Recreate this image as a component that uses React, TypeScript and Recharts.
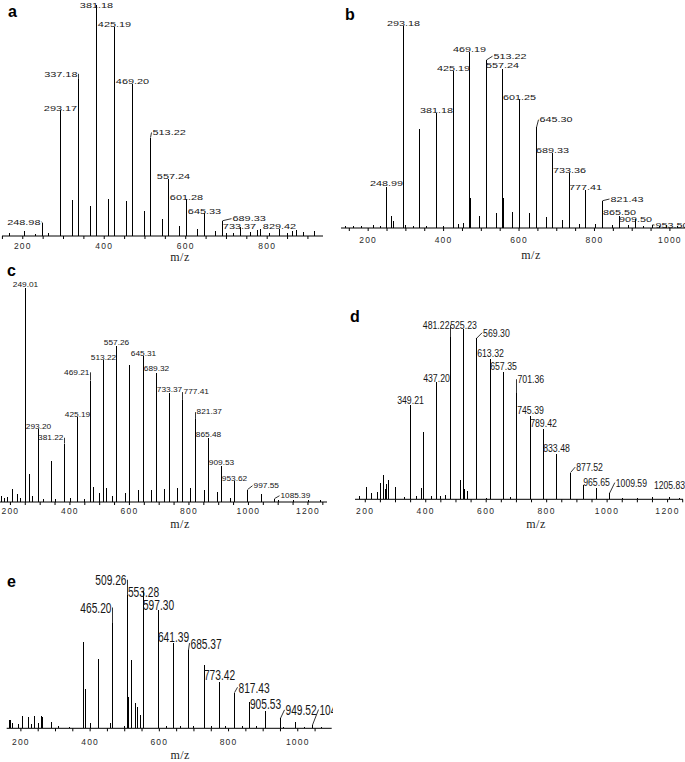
import React from "react";
import { BarChart, Bar, XAxis, YAxis, LabelList } from "recharts";

const SANS = "'Liberation Sans', Arial, sans-serif";
const SERIF = "'Liberation Serif', 'Times New Roman', serif";

// ---- a ----
const aTaggedMz = [248.98, 293.17, 337.18, 381.18, 425.19, 469.2, 513.22, 557.24, 601.28, 645.33, 689.33, 733.37, 829.42];
const aTaggedInt = [5.8, 54.5, 68, 100, 90.3, 65.8, 42.6, 24.8, 16, 9.8, 6.6, 4, 2.9];
const aOtherMz = [168, 205, 232, 262, 322, 366, 382.2, 410, 426.2, 454, 470.2, 498, 514.2, 542, 586, 630, 674, 700, 718, 760, 777, 784, 805, 850, 862, 873, 890, 915];
const aOtherInt = [1.2, 2, 1, 1.5, 15.6, 13, 18.5, 16, 17.5, 15.3, 13, 10.8, 9.5, 7.5, 4.3, 2.9, 2.2, 1.5, 1.2, 1.8, 2.6, 2.9, 1.2, 1.5, 2, 2.6, 1.8, 2.2];
const aTicks = [200, 400, 600, 800];

// ---- b ----
const bTaggedMz = [248.99, 293.18, 381.18, 425.19, 469.19, 513.22, 557.24, 601.25, 645.3, 689.33, 733.36, 777.41, 821.43, 865.5, 909.5, 953.5];
const bTaggedInt = [20.1, 100, 56.8, 77.9, 87.3, 83.2, 78.7, 63.9, 49.8, 37.1, 27.2, 18.6, 13.5, 5.8, 4.5, 1.6];
const bOtherMz = [140, 160, 182, 215, 232, 262, 266, 294.2, 300, 320, 337, 356, 400, 426.2, 440, 452, 470.2, 495, 514.2, 539, 558.2, 584, 602.2, 628, 646.2, 672, 716, 760, 804, 848, 890, 930, 972, 992, 1020];
const bOtherInt = [1, 1.2, 1, 1.5, 1, 6, 3.5, 12.4, 1.5, 1, 48.9, 1, 1.2, 12.5, 2, 2.5, 15, 6.1, 15, 7.4, 15, 8.1, 14.5, 7.4, 11, 5.3, 4.1, 2.1, 2, 1.6, 1.5, 1.2, 1, 1.4, 1];
const bTicks = [200, 400, 600, 800, 1000];

// ---- c ----
const cTaggedMz = [249.01, 293.2, 381.22, 425.19, 469.21, 513.22, 557.26, 645.31, 689.32, 733.37, 777.41, 821.37, 865.48, 909.53, 953.62, 997.55, 1085.39];
const cTaggedInt = [100, 33.9, 27.3, 39.8, 56.7, 66.4, 72.7, 68, 60.5, 50.8, 47.7, 38.8, 29.7, 16.7, 9.8, 5.8, 1.6];
const cOtherMz = [170, 180, 190, 207.7, 223, 232, 263.5, 275, 310, 337, 350, 400, 450, 478, 498, 523, 542, 585, 601.2, 630, 675, 717, 762, 806, 850, 895, 940, 1042, 1100, 1150, 1200, 1240];
const cOtherInt = [3, 2, 2.5, 6.3, 3.9, 2, 13, 3, 1.5, 19.2, 1.5, 2, 1.5, 7, 4, 6.7, 3, 4.4, 64.1, 5.8, 5.8, 5.9, 6.7, 6.6, 5.5, 4.7, 2, 3.6, 1, 1, 0.8, 0.8];
const cTicks = [200, 400, 600, 800, 1000, 1200];

// ---- d ----
const dTaggedMz = [349.21, 437.2, 481.22, 525.23, 569.3, 613.32, 657.35, 701.36, 745.39, 789.42, 833.48, 877.52, 965.65, 1009.59, 1205.83];
const dTaggedInt = [55.4, 69.1, 95.1, 100, 94.5, 82.2, 75, 62.2, 49.1, 41.1, 26.6, 15.7, 6.5, 3.5, 1.6];
const dOtherMz = [180, 205, 222, 240, 251, 260, 266, 271, 276, 298.6, 330, 370, 387, 393.2, 420, 450, 465, 514, 528, 539, 600, 680, 921.6, 1050, 1100, 1150, 1240];
const dOtherInt = [2, 7, 3.5, 4, 9.4, 14.3, 6, 9, 11.4, 7.4, 1.5, 2, 6.5, 39.7, 2, 2, 2.5, 11.4, 5.9, 5, 1, 1.5, 8.4, 1, 1, 1.2, 1];
const dTicks = [200, 400, 600, 800, 1000, 1200];

// ---- e ----
const eTaggedMz = [465.2, 509.26, 553.28, 597.3, 641.39, 685.37, 773.42, 817.43, 905.53, 949.52, 1041.55];
const eTaggedInt = [76.3, 96.9, 100, 86, 61.7, 56.9, 33.9, 25.9, 12.6, 7.3, 2.4];
const eOtherMz = [168, 171, 175, 192, 205, 221.6, 232, 240.7, 250, 260, 263, 289, 310, 340, 379.7, 387, 400, 424, 458, 500, 511.5, 520, 530, 537, 545, 555.5, 620, 660, 700, 729.4, 750, 790, 840, 861.5, 880, 960, 993.5, 1020, 1070];
const eOtherInt = [6, 6, 4, 3, 9, 8.5, 3, 9, 4, 9, 8, 4.8, 1.5, 1.2, 62.5, 28.6, 4, 50.4, 3.5, 2, 22.5, 49.6, 18.6, 15.7, 9.7, 18, 2, 2, 2, 46, 2, 2, 1.5, 19.4, 1.5, 1.2, 4.4, 1.2, 1];
const eTicks = [200, 400, 600, 800, 1000];

// label placement: [mode, dx, dy]  c = centred, l = left of stick, r = right of stick (with leader)
const aPlace = {
  "248.98": ["l", -2, 2], "293.17": ["c", 0, 1], "337.18": ["l", -1, -2.4], "381.18": ["c", 0, 2.5],
  "513.22": ["r", 2, -2.4], "557.24": ["c", 5, 0], "601.28": ["c", 0, 1], "645.33": ["c", 0, 1],
  "689.33": ["r", 10, 0.6], "733.37": ["c", -1, 2],
};
const bPlace = {
  "248.99": ["c", 0, -1], "513.22": ["r", 7, -1], "557.24": ["c", 0, -1], "601.25": ["c", 0, 1],
  "645.30": ["r", 3, -5], "821.43": ["r", 8, 1], "865.50": ["c", 0, -1], "909.50": ["c", 0, 3], "953.50": ["r", 3, 3],
};
const cPlace = {
  "249.01": ["c", 0, -1], "381.22": ["l", -1, -3.5], "469.21": ["l", -1, -6], "557.26": ["c", 0, -1.5],
  "689.32": ["c", 0, -1.5], "733.37": ["c", 0, -1], "777.41": ["r", 1, -5.5], "821.37": ["r", 1, -4.5],
  "865.48": ["c", 0, -1.4], "909.53": ["c", 0, -1.4], "997.55": ["r", 6, -1.5], "1085.39": ["r", 6, -0.5],
};
const dPlace = {
  "349.21": ["c", 0, -1], "481.22": ["l", -1, -8], "569.30": ["r", 6.6, -1.5], "613.32": ["c", 0, -2],
  "657.35": ["c", 0, -1.5], "701.36": ["r", 1, -10], "745.39": ["c", 0, -2], "789.42": ["c", 0, -2],
  "833.48": ["c", 0, -2], "877.52": ["r", 5.7, -1.3], "965.65": ["c", 0, -2], "1009.59": ["r", 6.3, -6.6],
  "1205.83": ["c", 0, -8],
};
const ePlace = {
  "465.20": ["l", -1, -10.4], "509.26": ["l", -1, -9.8], "553.28": ["c", 0, 6], "641.39": ["c", 0, -1],
  "685.37": ["r", 2, -1.5], "773.42": ["c", 0, -2], "817.43": ["r", 4, 0], "905.53": ["c", 0, -2],
  "949.52": ["r", 5, -3], "1041.55": ["r", 7, -10],
};

function buildRows(tMz, tInt, oMz, oInt) {
  const rows = tMz.map((mz, i) => ({ mz, intensity: tInt[i], tag: mz.toFixed(2) }));
  oMz.forEach((mz, i) => rows.push({ mz, intensity: oInt[i], tag: "" }));
  return rows.sort((p, q) => p.mz - q.mz);
}

function minorTicks(domain) {
  const out = [];
  for (let v = Math.ceil(domain[0] / 50) * 50; v <= domain[1]; v += 50) out.push(v);
  return out;
}

const panels = [
  { id: "a", left: 0, top: 0, width: 330, height: 265, margin: { top: 5, right: 7, left: 2, bottom: 0 }, axisH: 29,
    domain: [149, 937], ticks: aTicks, tickMargin: 4, tickSpace: 1.2, shift: 17.5, lift: 4, size: 7.5, charW: 5.55, place: aPlace,
    rows: buildRows(aTaggedMz, aTaggedInt, aOtherMz, aOtherInt) },
  { id: "b", left: 339, top: 0, width: 346, height: 262, margin: { top: 26, right: 0, left: 2, bottom: 0 }, axisH: 34,
    domain: [128, 1040], ticks: bTicks, tickMargin: 6, tickSpace: 1.2, shift: 18, lift: 3.5, size: 7.5, charW: 5.5, place: bPlace,
    rows: buildRows(bTaggedMz, bTaggedInt, bOtherMz, bOtherInt) },
  { id: "c", left: 0, top: 250, width: 330, height: 280, margin: { top: 38, right: 3, left: 0, bottom: 0 }, axisH: 28,
    domain: [165, 1264], ticks: cTicks, tickMargin: 3, tickSpace: 1.2, shift: 16.5, lift: 2, size: 6.5, charW: 4.25, place: cPlace,
    rows: buildRows(cTaggedMz, cTaggedInt, cOtherMz, cOtherInt) },
  { id: "d", left: 340, top: 250, width: 345, height: 280, margin: { top: 79, right: 2, left: 15, bottom: 0 }, axisH: 30.7,
    domain: [166, 1251], ticks: dTicks, tickMargin: 6, tickSpace: 1.4, shift: 17, lift: 2, size: 11.5, charW: 4.45, place: dPlace,
    rows: buildRows(dTaggedMz, dTaggedInt, dOtherMz, dOtherInt) },
  { id: "e", left: 0, top: 510, width: 333, height: 252, margin: { top: 80.7, right: 1.3, left: 6.7, bottom: 0 }, axisH: 33.7,
    domain: [159, 1098], ticks: eTicks, tickMargin: 8, tickSpace: 1.2, shift: 11, lift: 3.5, size: 15, charW: 5.2, place: ePlace,
    rows: buildRows(eTaggedMz, eTaggedInt, eOtherMz, eOtherInt) },
];

const letters = [
  { id: "a", x: 8, y: 17 },
  { id: "b", x: 345, y: 20 },
  { id: "c", x: 7, y: 276 },
  { id: "d", x: 350, y: 322 },
  { id: "e", x: 7, y: 587 },
];

const stickShape = (props) => {
  const { x, y, width, height } = props;
  if (!height || height <= 0) return null;
  const px = Math.floor(Number(x) + Number(width) / 2);
  return <rect x={px} y={y} width={1} height={height} fill="#000" shapeRendering="crispEdges" />;
};

function makeLabel(place, size, charW) {
  return (props) => {
    const { x, y, width, value } = props;
    if (!value) return null;
    const cx = Math.floor(Number(x) + Number(width) / 2) + 0.5;
    const top = Number(y);
    const [mode, dx, dy] = place[value] || ["c", 0, 0];
    const base = top + dy;
    const txt = {
      fontFamily: SANS, fontSize: size, fill: "#161616",
      textLength: charW * String(value).length, lengthAdjust: "spacingAndGlyphs",
    };
    if (mode === "c") {
      return <text x={cx + dx} y={base} textAnchor="middle" {...txt}>{value}</text>;
    }
    const edge = cx + dx;
    const mid = base - size * 0.36;
    const lx = mode === "l" ? edge + 1 : edge - 1;
    return (
      <g>
        <path d={`M${cx},${top}L${lx},${mid}`} stroke="#000" strokeWidth={0.8} fill="none" />
        <text x={edge} y={base} textAnchor={mode === "l" ? "end" : "start"} {...txt}>{value}</text>
      </g>
    );
  };
}

function AxisTitle(props) {
  const vb = props.viewBox;
  if (!vb) return null;
  return (
    <text x={vb.x + vb.width / 2 + props.shift} y={vb.y + vb.height - props.lift} textAnchor="middle"
      fontFamily={SERIF} fontSize={12} letterSpacing={0.5} fill="#222">m/z</text>
  );
}

function Spectrum({ p }) {
  return (
    <div style={{ position: "absolute", left: p.left, top: p.top, width: p.width, height: p.height, overflow: "hidden" }}>
      <BarChart width={p.width} height={p.height} data={p.rows} margin={p.margin} barSize={1}>
        <XAxis type="number" dataKey="mz" domain={p.domain} allowDataOverflow ticks={minorTicks(p.domain)} interval={0}
          tickFormatter={(v) => (p.ticks.includes(v) ? String(v) : "")} height={p.axisH} stroke="#000"
          tickSize={3} tickMargin={p.tickMargin}
          tick={{ fontSize: 8.5, fill: "#2a2a2a", fontFamily: SANS, letterSpacing: p.tickSpace }}
          label={<AxisTitle shift={p.shift} lift={p.lift} />} />
        <YAxis type="number" hide domain={[0, 100]} allowDataOverflow />
        <Bar dataKey="intensity" fill="#000" isAnimationActive={false} shape={stickShape}>
          <LabelList dataKey="tag" content={makeLabel(p.place, p.size, p.charW)} />
        </Bar>
      </BarChart>
    </div>
  );
}

export default function App() {
  return (
    <div style={{ position: "absolute", left: 0, top: 0, width: 685, height: 762, background: "#fff", overflow: "hidden" }}>
      {panels.map((p) => (
        <Spectrum key={p.id} p={p} />
      ))}
      <svg width={685} height={762} style={{ position: "absolute", left: 0, top: 0, pointerEvents: "none" }}>
        {letters.map((l) => (
          <text key={l.id} x={l.x} y={l.y} fontFamily={SANS} fontWeight="bold" fontSize={16} fill="#000">{l.id}</text>
        ))}
      </svg>
    </div>
  );
}
